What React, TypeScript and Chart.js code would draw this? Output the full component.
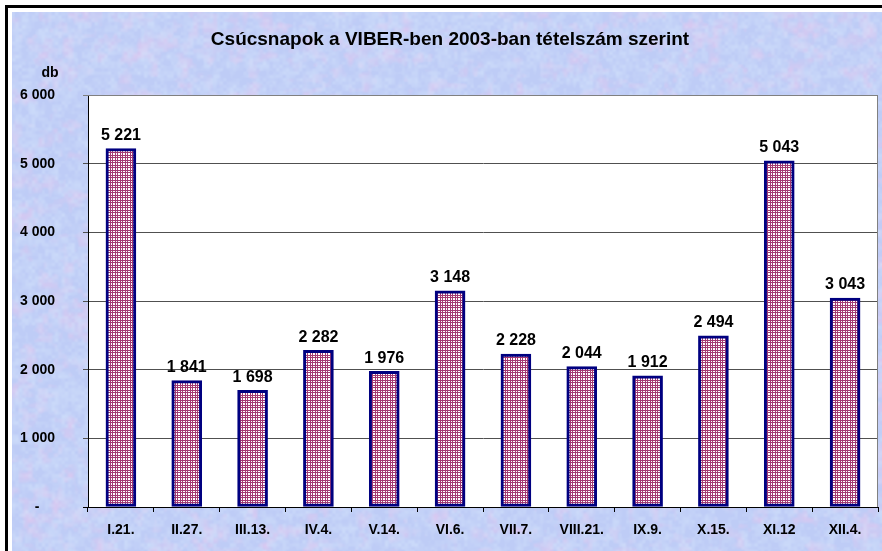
import React, { useEffect, useRef } from "react";
import { Chart, registerables } from "chart.js";

Chart.register(...registerables);

const TITLE = "Csúcsnapok a VIBER-ben 2003-ban tételszám szerint";
const UNIT = "db";
const categories = ["I.21.", "II.27.", "III.13.", "IV.4.", "V.14.", "VI.6.", "VII.7.", "VIII.21.", "IX.9.", "X.15.", "XI.12", "XII.4."];
const values = [5221, 1841, 1698, 2282, 1976, 3148, 2228, 2044, 1912, 2494, 5043, 3043];
const yMax = 6000;
const yStep = 1000;

const FONT = "'Liberation Sans', Arial, sans-serif";

function fmt(v: number): string {
  if (v === 0) return "-    ";
  const s = String(Math.round(v));
  return s.replace(/\B(?=(\d{3})+(?!\d))/g, " ");
}

function hash(x: number, y: number, s: number): number {
  let h = (Math.imul(x, 374761393) + Math.imul(y, 668265263) + Math.imul(s, 1442695041)) | 0;
  h = Math.imul(h ^ (h >>> 13), 1274126177);
  h = h ^ (h >>> 16);
  return (h >>> 0) / 4294967295;
}
function vnoise(x: number, y: number, scale: number, seed: number): number {
  const gx = x / scale, gy = y / scale;
  const x0 = Math.floor(gx), y0 = Math.floor(gy);
  const fx = gx - x0, fy = gy - y0;
  const sx = fx * fx * (3 - 2 * fx), sy = fy * fy * (3 - 2 * fy);
  const a = hash(x0, y0, seed), b = hash(x0 + 1, y0, seed);
  const c = hash(x0, y0 + 1, seed), d = hash(x0 + 1, y0 + 1, seed);
  const top = a + (b - a) * sx, bot = c + (d - c) * sx;
  return top + (bot - top) * sy;
}

function makeTexture(w: number, h: number): HTMLCanvasElement {
  const c = document.createElement("canvas");
  c.width = w; c.height = h;
  const g = c.getContext("2d")!;
  const img = g.createImageData(w, h);
  for (let y = 0; y < h; y++) {
    for (let x = 0; x < w; x++) {
      const pink = vnoise(x, y, 14, 1) * 0.6 + vnoise(x, y, 5, 2) * 0.4;
      const light = vnoise(x, y, 8, 3) * 0.5 + vnoise(x, y, 3.3, 4) * 0.5;
      const p = Math.max(0, Math.min(1, (pink - 0.5) * 2.0));
      const l = Math.max(0, Math.min(1, (light - 0.3) * 1.5));
      let r = 190 + (218 - 190) * p;
      let gg = 204 + (200 - 204) * p;
      let b = 246 + (240 - 246) * p;
      r = r + (214 - r) * l * 0.55;
      gg = gg + (230 - gg) * l * 0.55;
      b = b + (252 - b) * l * 0.55;
      const i = (y * w + x) * 4;
      img.data[i] = r; img.data[i + 1] = gg; img.data[i + 2] = b; img.data[i + 3] = 255;
    }
  }
  g.putImageData(img, 0, 0);
  return c;
}

function makeCheck(): CanvasPattern {
  const c = document.createElement("canvas");
  c.width = 5; c.height = 5;
  const g = c.getContext("2d")!;
  g.fillStyle = "#ffffff";
  g.fillRect(0, 0, 5, 5);
  g.fillStyle = "#a33a72";
  g.fillRect(0, 0, 5, 1);
  g.fillRect(0, 2, 5, 1);
  g.fillRect(0, 0, 1, 5);
  g.fillRect(2, 0, 1, 5);
  return g.createPattern(c, "repeat")!;
}

export default function App() {
  const ref = useRef<HTMLCanvasElement>(null);
  useEffect(() => {
    const canvas = ref.current!;
    const tex = makeTexture(882, 551);

    const bgPlugin = {
      id: "bg",
      beforeDraw(chart: any) {
        const { ctx, chartArea } = chart;
        ctx.save();
        ctx.fillStyle = "#ffffff";
        ctx.fillRect(0, 0, 882, 551);
        ctx.drawImage(tex, 12, 12, 870, 539, 12, 12, 870, 539);
        ctx.fillStyle = "#000000";
        ctx.fillRect(5, 5, 877, 3);
        ctx.fillRect(5, 5, 3, 546);
        ctx.fillStyle = "#ffffff";
        ctx.fillRect(chartArea.left, chartArea.top, chartArea.right - chartArea.left, chartArea.bottom - chartArea.top);
        ctx.fillStyle = "#000000";
        ctx.font = `bold 19px ${FONT}`;
        ctx.textAlign = "center";
        ctx.textBaseline = "middle";
        ctx.fillText(TITLE, 450, 40);
        ctx.font = `bold 14px ${FONT}`;
        ctx.fillText(UNIT, 50, 73);
        ctx.restore();
      },
      afterDraw(chart: any) {
        const { ctx, chartArea } = chart;
        ctx.save();
        ctx.strokeStyle = "#808080";
        ctx.lineWidth = 1;
        ctx.beginPath();
        ctx.moveTo(chartArea.left, chartArea.top + 0.5);
        ctx.lineTo(chartArea.right - 0.5, chartArea.top + 0.5);
        ctx.lineTo(chartArea.right - 0.5, chartArea.bottom);
        ctx.stroke();
        ctx.restore();
      },
      afterDatasetsDraw(chart: any) {
        const { ctx } = chart;
        const meta = chart.getDatasetMeta(0);
        ctx.save();
        ctx.fillStyle = "#000000";
        ctx.font = `bold 16px ${FONT}`;
        ctx.textAlign = "center";
        ctx.textBaseline = "bottom";
        meta.data.forEach((bar: any, i: number) => {
          ctx.fillText(fmt(values[i]), bar.x, bar.y - 5);
        });
        ctx.restore();
      },
    };

    const chart = new Chart(canvas, {
      type: "bar",
      data: {
        labels: categories,
        datasets: [
          {
            data: values,
            backgroundColor: makeCheck() as any,
            borderColor: "#000080",
            borderWidth: 3,
            borderSkipped: false,
            barThickness: 30,
          },
        ],
      },
      options: {
        responsive: false,
        animation: false,
        events: [],
        layout: { padding: { top: 95, right: 4, left: 0, bottom: 0 } },
        plugins: { legend: { display: false }, title: { display: false }, tooltip: { enabled: false } },
        scales: {
          x: {
            offset: true,
            grid: {
              offset: true,
              drawOnChartArea: false,
              drawTicks: true,
              tickLength: 5,
              color: "#000000",
            },
            border: { color: "#000000", width: 1 },
            ticks: {
              color: "#000000",
              font: { family: FONT, size: 14, weight: "bold" },
              padding: 10,
              maxRotation: 0,
              autoSkip: false,
            },
            afterFit(scale: any) {
              scale.height = 44;
            },
          },
          y: {
            min: 0,
            max: yMax,
            grid: {
              color: (c: any) => (c.tick && c.tick.value === yMax ? "#808080" : c.tick && c.tick.value === 0 ? "#000000" : "#505050"),
              tickLength: 5,
              drawTicks: true,
            },
            border: { color: "#000000", width: 1 },
            ticks: {
              stepSize: yStep,
              color: "#000000",
              font: { family: FONT, size: 14, weight: "bold" },
              padding: 28,
              callback: (v: any) => fmt(Number(v)),
            },
            afterFit(scale: any) {
              scale.width = 88;
            },
          },
        },
      },
      plugins: [bgPlugin],
    });
    return () => chart.destroy();
  }, []);

  return (
    <div style={{ position: "fixed", left: 0, top: 0, width: 882, height: 551 }}>
      <canvas ref={ref} width={882} height={551} style={{ display: "block" }} />
    </div>
  );
}
